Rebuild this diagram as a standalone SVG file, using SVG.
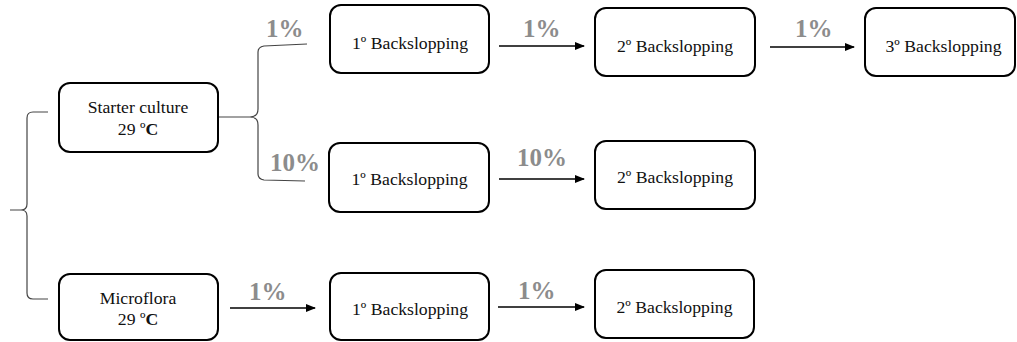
<svg xmlns="http://www.w3.org/2000/svg" width="1017" height="342" viewBox="0 0 1017 342">
<style>
.box{fill:#fff;stroke:#000;stroke-width:2}
.t{font-family:'Liberation Serif','DejaVu Serif',serif;font-size:17.7px;fill:#111;text-anchor:middle}
.pct{font-family:'Liberation Serif','DejaVu Serif',serif;font-size:25px;font-weight:bold;fill:#8c8c8c}
.arr{stroke:#000;stroke-width:1.3;fill:none;marker-end:url(#ah)}
.brace{stroke:#444;stroke-width:1.2;fill:none}
</style>
<defs>
<marker id="ah" markerWidth="10" markerHeight="8" refX="9" refY="4" orient="auto" markerUnits="userSpaceOnUse">
<path d="M0,0 L10,4 L0,8 Z" fill="#000"/>
</marker>
</defs>
<rect width="1017" height="342" fill="#fff"/>
<g id="connectors" font-family="Liberation Serif, serif">
<path class="brace" d="M48,112 L33,112 Q27,112 27,118 L27,204 Q27,210 21,210 L10,210 M21,210 Q27,210 27,216 L27,293 Q27,299 33,299 L48,299"/>
<path class="brace" d="M218,117 L250,117 Q258,117 258,109 L258,52 Q258,47 264,46 L307,44 M250,117 Q258,117 258,125 L258,174 Q258,179 264,180 L305,181"/>
<line class="arr" x1="499" y1="46" x2="584" y2="46"/>
<line class="arr" x1="770" y1="47" x2="854" y2="47"/>
<line class="arr" x1="499" y1="179" x2="584" y2="179"/>
<line class="arr" x1="230" y1="308" x2="315" y2="308"/>
<line class="arr" x1="498" y1="307" x2="584" y2="307"/>
<text class="pct" x="266" y="37">1%</text>
<text class="pct" x="523" y="37">1%</text>
<text class="pct" x="795" y="37">1%</text>
<text class="pct" x="270" y="171">10%</text>
<text class="pct" x="517" y="166">10%</text>
<text class="pct" x="249" y="300">1%</text>
<text class="pct" x="518" y="299">1%</text>
</g>
<g id="starter" font-family="Liberation Serif, serif">
<rect class="box" x="59" y="83" width="159" height="69" rx="11"/>
<text class="t" x="138" y="113">Starter culture</text>
<text class="t" x="138" y="135">29 º<tspan font-weight="bold">C</tspan></text>
</g>
<g id="microflora" font-family="Liberation Serif, serif">
<rect class="box" x="59" y="274" width="159" height="66" rx="11"/>
<text class="t" x="138" y="304">Microflora</text>
<text class="t" x="138" y="325">29 º<tspan font-weight="bold">C</tspan></text>
</g>
<g id="top1">
<rect class="box" x="330" y="5" width="159" height="68" rx="11"/>
<text class="t" x="410" y="49">1º Backslopping</text>
</g>
<g id="top2">
<rect class="box" x="595" y="8" width="160" height="68" rx="11"/>
<text class="t" x="675" y="52">2º Backslopping</text>
</g>
<g id="top3">
<rect class="box" x="865" y="8" width="150" height="68" rx="11"/>
<text class="t" x="943.5" y="52">3º Backslopping</text>
</g>
<g id="mid1">
<rect class="box" x="329" y="143" width="160" height="69" rx="11"/>
<text class="t" x="409.5" y="185">1º Backslopping</text>
</g>
<g id="mid2">
<rect class="box" x="595" y="141" width="160" height="68" rx="11"/>
<text class="t" x="675" y="183">2º Backslopping</text>
</g>
<g id="bot1">
<rect class="box" x="330" y="273" width="159" height="67" rx="11"/>
<text class="t" x="410" y="315">1º Backslopping</text>
</g>
<g id="bot2">
<rect class="box" x="595" y="270" width="159" height="68" rx="11"/>
<text class="t" x="674.5" y="313">2º Backslopping</text>
</g>
</svg>
